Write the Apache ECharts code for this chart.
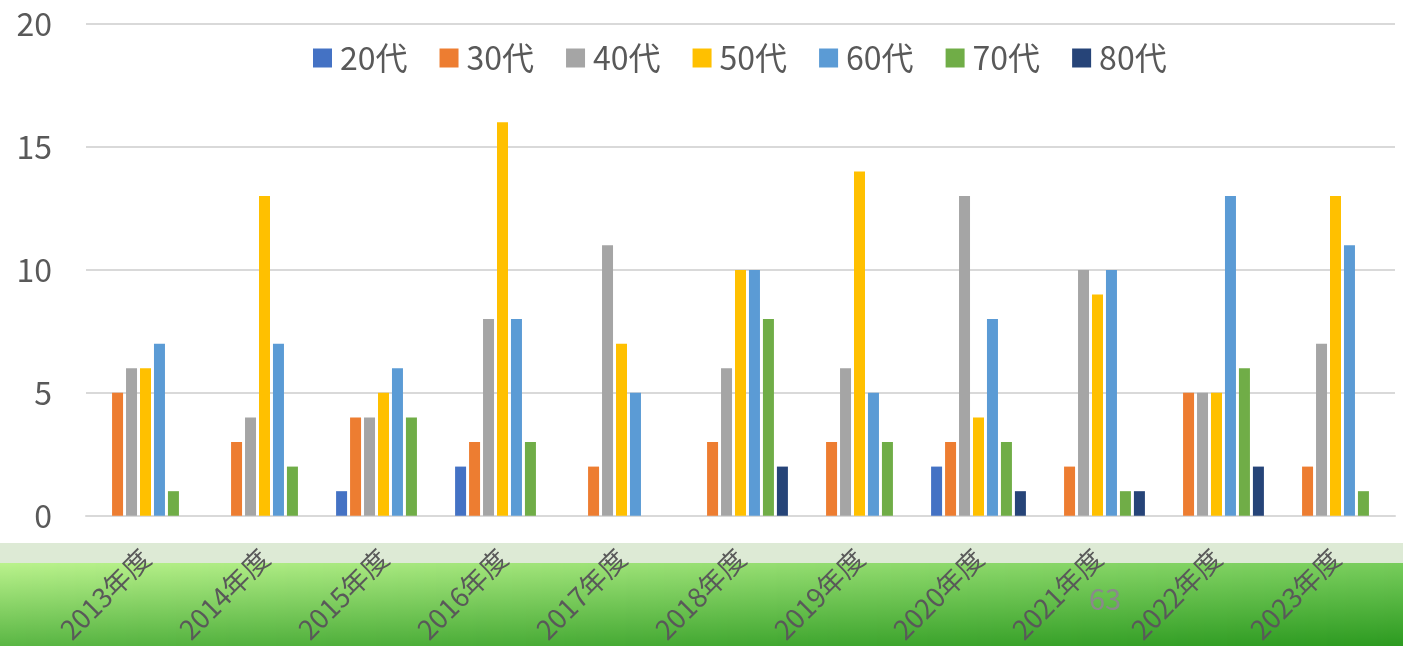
<!DOCTYPE html>
<html>
<head>
<meta charset="utf-8">
<style>
  html, body { margin: 0; padding: 0; background: #fff; }
  #charts { width: 1403px; height: 646px; }
</style>
<script src="https://cdn.jsdelivr.net/npm/echarts@6/dist/echarts.min.js"></script>
</head>
<body>
<div id="charts"></div>
<script>
const years = ["2013年度", "2014年度", "2015年度", "2016年度", "2017年度", "2018年度",
  "2019年度", "2020年度", "2021年度", "2022年度", "2023年度"];
const ages = ["20代", "30代", "40代", "50代", "60代", "70代", "80代"];
const yTicks = [0, 5, 10, 15, 20];

const age20 = [0, 0, 1, 2, 0, 0, 0, 2, 0, 0, 0];
const age30 = [5, 3, 4, 3, 2, 3, 3, 3, 2, 5, 2];
const age40 = [6, 4, 4, 8, 11, 6, 6, 13, 10, 5, 7];
const age50 = [6, 13, 5, 16, 7, 10, 14, 4, 9, 5, 13];
const age60 = [7, 7, 6, 8, 5, 10, 5, 8, 10, 13, 11];
const age70 = [1, 2, 4, 3, 0, 8, 3, 3, 1, 6, 1];
const age80 = [0, 0, 0, 0, 0, 2, 0, 1, 1, 2, 0];

const pageNo = "63";

const colors = ["#4472c4", "#ed7d31", "#a5a5a5", "#ffc000", "#5b9bd5", "#70ad47", "#264478"];
const values = [age20, age30, age40, age50, age60, age70, age80];
const font = '"Noto Sans CJK JP", "Noto Sans", sans-serif';

// green footer of the slide: colour changes both left->right and top->bottom
const makeFooter = (w, h) => {
  const cv = document.createElement("canvas");
  cv.width = w;
  cv.height = h;
  const ctx = cv.getContext("2d");
  const lt = [186, 242, 140], rt = [120, 205, 92];
  const lb = [90, 182, 68], rb = [44, 154, 32];
  const mix = (a, b, t) => a.map((v, k) => Math.round(v + (b[k] - v) * t));
  for (let x = 0; x < w; x++) {
    const t = x / (w - 1);
    const top = mix(lt, rt, t), bot = mix(lb, rb, t);
    const g = ctx.createLinearGradient(0, 0, 0, h);
    g.addColorStop(0, "rgb(" + top.join(",") + ")");
    g.addColorStop(1, "rgb(" + bot.join(",") + ")");
    ctx.fillStyle = g;
    ctx.fillRect(x, 0, 1, h);
  }
  return cv;
};

const option = {
  animation: false,
  color: colors,
  textStyle: { fontFamily: font },
  graphic: [
    {
      type: "rect",
      z: -10,
      shape: { x: 0, y: 543, width: 1403, height: 21 },
      style: { fill: "#ddeAd5" },
    },
    {
      type: "image",
      z: -10,
      style: { image: makeFooter(1403, 83), x: 0, y: 563, width: 1403, height: 83 },
    },
    {
      type: "text",
      z: -5,
      left: 1089,
      top: 584,
      style: { text: pageNo, fill: "#8a8a8a", fontSize: 29, fontFamily: font },
    },
  ],
  legend: {
    data: ages,
    left: 313,
    top: 42,
    padding: 0,
    itemWidth: 19,
    itemHeight: 19,
    itemGap: 32,
    icon: "rect",
    textStyle: { color: "#595959", fontSize: 32, lineHeight: 30, padding: [0, 0, 0, 3] },
  },
  grid: { left: 86, right: 8, top: 24, bottom: 128 },
  xAxis: {
    type: "category",
    data: years,
    axisLine: { lineStyle: { color: "#d9d9d9", width: 2 } },
    axisTick: { show: false },
    axisLabel: {
      interval: 0,
      rotate: 45,
      margin: 38,
      color: "#595959",
      fontSize: 27,
    },
  },
  yAxis: {
    type: "value",
    min: yTicks[0],
    max: yTicks[yTicks.length - 1],
    interval: yTicks[1] - yTicks[0],
    axisLine: { show: false },
    axisTick: { show: false },
    axisLabel: { margin: 34, color: "#595959", fontSize: 32 },
    splitLine: { lineStyle: { color: "#d9d9d9", width: 2 } },
  },
  series: ages.map((name, i) => ({
    name: name,
    type: "bar",
    data: values[i],
    barWidth: 11,
    barGap: "27%",
  })),
};

const charts = echarts.init(document.getElementById("charts"));
charts.setOption(option);
</script>
</body>
</html>
